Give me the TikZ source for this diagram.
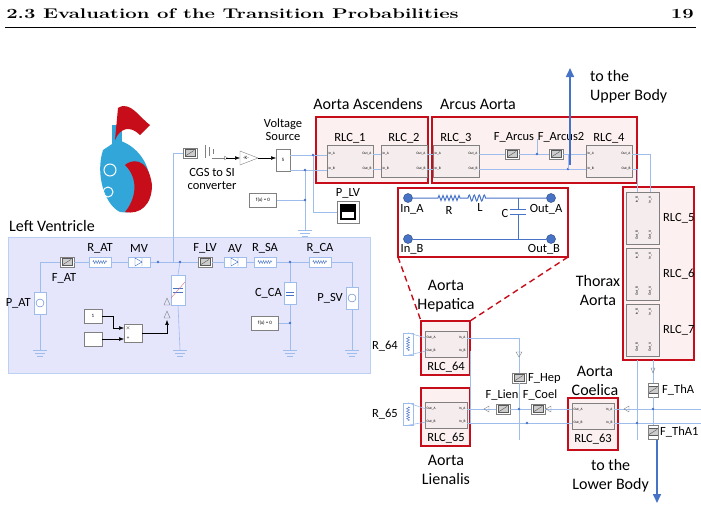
\documentclass[tikz,border=0pt]{standalone}
\usepackage{fontspec}
\newfontfamily\lbl{Carlito}
\usetikzlibrary{positioning, calc, arrows.meta, decorations.pathmorphing}
\definecolor{wire}{rgb}{0.62, 0.74, 0.93}
\definecolor{myred}{rgb}{0.78, 0.05, 0.1}
\definecolor{pinkbg}{rgb}{0.99, 0.94, 0.94}
\definecolor{lila}{rgb}{0.9, 0.9, 0.99}
\definecolor{blockbg}{rgb}{0.96, 0.93, 0.93}
\definecolor{cyanheart}{rgb}{0.2, 0.65, 0.85}
\definecolor{upblue}{rgb}{0.28, 0.45, 0.78}
\newcommand\pw{0.6pt}
\tikzset{
  lab/.style={font=\lbl\fontsize{12.5}{13}\selectfont, align=center, inner sep=1pt},
  big/.style={font=\lbl\fontsize{16}{19}\selectfont, align=center, inner sep=1pt},
  port/.style={font=\lbl\fontsize{3.5}{4}\selectfont, inner sep=0.5pt},
  grp/.style={draw=myred, line width=1.4pt, fill=pinkbg},
  rlc/.style={draw=gray, fill=blockbg, minimum width=46pt, minimum height=32pt, inner sep=0pt},
  vrlc/.style={draw=gray, fill=blockbg, minimum width=33pt, minimum height=52pt, inner sep=0pt},
  sens/.style={draw=gray, fill=white, minimum width=14pt, minimum height=10pt, inner sep=0pt,
    path picture={\draw[gray!70!black, fill=gray!40] ([shift={(-5pt,-3.5pt)}]path picture bounding box.center) rectangle ++(10pt,7pt);
      \draw[gray!70!black] ([shift={(-4pt,-2.5pt)}]path picture bounding box.center) -- ++(8pt,5pt);}},
  comp/.style={draw=wire, fill=white, minimum width=22pt, minimum height=10pt, inner sep=0pt},
  blk/.style={draw=gray, fill=white, minimum width=30pt, minimum height=18pt, inner sep=0pt, font=\lbl\fontsize{5}{6}\selectfont},
  w/.style={draw=wire, line width=\pw},
  dot/.style={circle, fill=upblue, inner sep=1.3pt},
  bigdot/.style={circle, fill=upblue, draw=upblue!60!black, inner sep=3.2pt},
  gnd/.style={draw=wire, line width=\pw},
  hd/.style={inner sep=0pt, font=\fontsize{14}{16}\selectfont\bfseries, xscale=1.45, transform shape},
}
\begin{document}
\begin{tikzpicture}[x=1pt, y=-1pt]
  \useasboundingbox (0,0) rectangle (701,523);

  % header
  \node (head) [hd, anchor=west] at (6,14) {2.3 Evaluation of the Transition Probabilities};
  \node (page) [hd, anchor=east] at (694,14) {19};
  \draw[line width=0.5pt] (5,27) -- (696,27);

  % groups
  \draw[fill=lila, draw=wire!70] (8,237) rectangle (370,373);
  \node (lv) [big, anchor=west] at (8,226) {Left Ventricle};
  \draw[grp] (316,117) rectangle (428,183);
  \node (asc) [big] at (368,104) {Aorta Ascendens};
  \draw[grp] (432,117) rectangle (637,183);
  \node (arc) [big] at (478,104) {Arcus Aorta};
  \draw[grp] (623,187) rectangle (694,360);
  \node (thx) [big] at (598,290) {Thorax\\Aorta};
  \draw[grp, fill=white] (398,188) rectangle (568,257);
  \draw[grp] (421,321) rectangle (470,375);
  \draw[grp] (421,388) rectangle (470,446);
  \draw[grp] (568,398) rectangle (618,450);
  \draw[myred, line width=1.4pt, dash pattern=on 6pt off 4pt] (398,257) -- (421,321);
  \draw[myred, line width=1.4pt, dash pattern=on 6pt off 4pt] (568,257) -- (470,321);

  % heart
  \fill[cyanheart] (103,150) .. controls (95,175) and (105,205) .. (120,212) .. controls (140,215) and (152,200) .. (150,180)
    .. controls (148,160) and (135,145) .. (118,140) -- cycle;
  \fill[cyanheart] (112,125) rectangle (122,150);
  \fill[myred] (118,108) .. controls (130,100) and (140,118) .. (150,125) -- (140,135) .. controls (130,125) and (120,128) .. (115,140) -- cycle;
  \fill[myred] (125,165) .. controls (130,160) and (148,155) .. (152,185) .. controls (152,205) and (140,215) .. (125,212)
    .. controls (135,200) and (140,180) .. cycle;
  \draw[white, line width=1pt] (110,170) circle (6pt) (108,192) circle (5pt);

  % top chain
  \node (pls) [sens, fill=white] at (190,153) {};
  \node (cgs) [lab] at (212,179) {CGS to SI\\converter};
  \draw[gray, fill=white] (240,151) -- (258,158) -- (240,165) -- cycle;
  \node (gk) [port, font=\lbl\fontsize{5}{6}\selectfont] at (246,158) {-K-};
  \node (vs) [draw=gray, fill=white, minimum width=14pt, minimum height=22pt, inner sep=0pt, font=\lbl\fontsize{5}{6}\selectfont] at (283,160) {S};
  \node (vsl) [lab] at (283,130) {Voltage\\Source};
  \node (fx1) [blk, minimum width=27pt, minimum height=14pt] at (263,200) {f(x) = 0};
  \node (plv) [draw=gray, fill=white, minimum width=22pt, minimum height=22pt, inner sep=0pt,
    path picture={\fill[black] ([shift={(-8pt,-8pt)}]path picture bounding box.center) rectangle ++(16pt,16pt);
      \fill[white] ([shift={(-6pt,-6pt)}]path picture bounding box.center) rectangle ++(12pt,6pt);}] at (348,212) {};
  \node (plvl) [lab] at (348,193) {P\_LV};
  \draw[gray] (205,145) -- (205,158) (209,147) -- (209,156) (213,149) -- (213,154);
  \draw[-{Triangle[open]}, gray] (212,158) -- (228,158);
  \draw[-Latex] (226,158) -- (240,158);
  \draw[-Latex] (258,158) -- (276,158);
  \draw[w] (290,155) -- (327,155) (290,170) -- (327,170);
  \draw[w] (313,155) |- (plv.west);
  \draw[w] (305,170) -- (305,230);
  \draw[w] (fx1.east) -- (305,200);
  \draw[gnd] (298,230) -- (312,230) (300,233) -- (310,233) (302,236) -- (308,236);
  \node[dot, inner sep=1pt] at (313,155) {};
  \node[dot, inner sep=1pt] at (305,170) {};
  \node[dot, inner sep=1pt] at (305,200) {};
  \draw[w] (pls.west) -- (173,153) -- (173,262);

  % RLC blocks
  \foreach \n/\x in {1/350, 2/404, 3/456, 4/609} {
    \node (rlc\n) [rlc] at (\x,161) {};
    \node [lab] at (\x,138) {RLC\_\n};
    \node [port, anchor=west] at ($(rlc\n.west)+(1,-7)$) {In\_A};
    \node [port, anchor=west] at ($(rlc\n.west)+(1,8)$) {In\_B};
    \node [port, anchor=east] at ($(rlc\n.east)+(-1,-7)$) {Out\_A};
    \node [port, anchor=east] at ($(rlc\n.east)+(-1,8)$) {Out\_B};
  }
  \draw[w] (rlc1.east) ++(0,-7) -- ++(8,0);
  \draw[w] (rlc1.east) ++(0,8) -- ++(8,0);
  \draw[w] (rlc2.east) ++(0,-7) -- ++(6,0);
  \draw[w] (rlc2.east) ++(0,8) -- ++(6,0);
  \node (farc) [sens] at (512,154) {};
  \node (farc2) [sens] at (556,154) {};
  \node [lab] at (514,137) {F\_Arcus};
  \node [lab] at (561,137) {F\_Arcus2};
  \draw[w] (479,154) -- (farc.west) (farc.east) -- (farc2.west) (farc2.east) -- (586,154);
  \draw[w] (479,169) -- (586,169);
  \draw[w] (537,139) -- (537,154);
  \node[dot, inner sep=1pt] at (537,154) {};
  \node[dot, inner sep=1pt] at (568,169) {};
  \draw[w] (568,154) -- (568,169);
  \draw[upblue, line width=1.6pt, -{Triangle[width=8pt,length=9pt]}] (570,165) -- (570,68);
  \node (up) [big, anchor=west, align=left] at (589,87) {to the\\Upper Body};

  % thorax blocks
  \foreach \n/\y in {5/218, 6/274, 7/330} {
    \node (rlc\n) [vrlc] at (643,\y) {};
    \node [lab, anchor=west] at (662,\y) {RLC\_\n};
    \node [port, rotate=90] at ($(rlc\n.north)+(-6,8)$) {In\_B};
    \node [port, rotate=90] at ($(rlc\n.north)+(7,8)$) {In\_A};
    \node [port, rotate=90] at ($(rlc\n.south)+(-6,-9)$) {Out\_B};
    \node [port, rotate=90] at ($(rlc\n.south)+(7,-9)$) {Out\_A};
  }
  \draw[w] (632,154) -- (650,154) -- (rlc5.north-|650,0);
  \draw[w] (632,169) -- (637,169) -- (rlc5.north-|637,0);

  % inset circuit
  \node (ina) [bigdot] at (408,198) {};
  \node (outa) [bigdot] at (551,198) {};
  \node (inb) [bigdot] at (408,239) {};
  \node (outb) [bigdot] at (551,239) {};
  \draw[upblue, line width=1pt] (ina) -- (438,198) decorate[decoration={zigzag, segment length=4pt, amplitude=2.5pt}] {-- (460,198)}
    -- (468,198) decorate[decoration={coil, aspect=0, segment length=5pt, amplitude=3pt}] {-- (490,198)} -- (outa);
  \draw[upblue, line width=1pt] (inb) -- (outb);
  \draw[upblue, line width=1pt] (518,198) -- (518,209) (510,209) -- (526,209) (510,214) -- (526,214) (518,214) -- (518,239);
  \node [lab, anchor=north] at (412,203) {In\_A};
  \node [lab, anchor=north] at (412,243) {In\_B};
  \node [lab, anchor=north] at (546,203) {Out\_A};
  \node [lab, anchor=north] at (544,243) {Out\_B};
  \node [lab] at (449,210) {R};
  \node [lab] at (480,207) {L};
  \node [lab] at (505,213) {C};

  % left ventricle circuit
  \node (fat) [sens] at (67,262) {};
  \node [lab] at (64,278) {F\_AT};
  \node (rat) [comp] at (100,262) {};
  \node [lab] at (100,248) {R\_AT};
  \node (mv) [comp] at (139,262) {};
  \node [lab] at (139,248) {MV};
  \node (flv) [sens] at (205,262) {};
  \node [lab] at (205,248) {F\_LV};
  \node (av) [comp] at (235,262) {};
  \node [lab] at (235,248) {AV};
  \node (rsa) [comp] at (265,262) {};
  \node [lab] at (265,248) {R\_SA};
  \node (rca) [comp] at (320,262) {};
  \node [lab] at (320,248) {R\_CA};
  \foreach \r in {rat, rsa, rca}
    \draw[upblue] decorate[decoration={zigzag, segment length=2.5pt, amplitude=1.5pt}] {($(\r.west)+(4,0)$) -- ($(\r.east)+(-4,0)$)};
  \foreach \d in {mv, av}
    \draw[upblue] ($(\d)+(-4,-4)$) -- ($(\d)+(-4,4)$) -- ($(\d)+(3,0)$) -- cycle ($(\d)+(3,-4)$) -- ($(\d)+(3,4)$);
  \node (pat) [comp, minimum width=12pt, minimum height=22pt] at (40,303) {};
  \draw[upblue] (pat) circle (4pt);
  \node [lab, anchor=east] at (32,303) {P\_AT};
  \node (psv) [comp, minimum width=12pt, minimum height=22pt] at (352,298) {};
  \draw[upblue] (psv) circle (4pt);
  \node [lab, anchor=east] at (344,298) {P\_SV};
  \node (cca) [comp, minimum width=12pt, minimum height=22pt] at (290,293) {};
  \draw[upblue, line width=1pt] (286,292) -- (294,292) (286,295) -- (294,295);
  \node [lab, anchor=east] at (283,293) {C\_CA};
  \node (clv) [comp, minimum width=14pt, minimum height=30pt] at (178,290) {};
  \draw[upblue, line width=1pt] (173,288) -- (183,288) (173,292) -- (183,292);
  \draw[myred!60] (171,298) -- (185,282);
  \node (one) [blk, minimum width=18pt, minimum height=14pt] at (93,316) {1};
  \node (emp) [blk, minimum width=18pt, minimum height=14pt] at (93,339) {};
  \node (prod) [blk, minimum width=18pt, minimum height=18pt] at (133,333) {};
  \node [port, font=\lbl\fontsize{5}{6}\selectfont] at (128,328) {$\times$};
  \node [port, font=\lbl\fontsize{5}{6}\selectfont] at (128,338) {+};
  \node (fx2) [blk, minimum width=27pt, minimum height=14pt] at (265,323) {f(x) = 0};
  \draw[-Latex] (one.east) -- (113,316) -- (113,328) -- (124,328);
  \draw[-Latex] (emp.east) -- (124,339);
  \draw[-Latex] (prod.east) -- (167,333) -- (167,320);
  \draw[gray] (164,305) -- (170,305) -- (167,298) -- cycle (164,318) -- (170,318) -- (167,311) -- cycle;
  \draw[w] (pat.north) -- (40,262) -- (fat.west) (fat.east) -- (rat.west) (rat.east) -- (mv.west) (mv.east) -- (flv.west)
    (flv.east) -- (av.west) (av.east) -- (rsa.west) (rsa.east) -- (rca.west) (rca.east) -- (352,262) -- (psv.north);
  \draw[w] (180,262) -- (clv.north) (clv.south) -- (180,350);
  \draw[w] (290,262) -- (cca.north) (cca.south) -- (290,350);
  \draw[w] (fx2.east) -- (290,323);
  \draw[w] (pat.south) -- (40,350) (psv.south) -- (352,350);
  \foreach \g in {40, 180, 290, 352}
    \draw[gnd] (\g-7,350) -- (\g+7,350) (\g-5,353) -- (\g+5,353) (\g-3,356) -- (\g+3,356);
  \foreach \p in {(158,262), (180,262), (290,262), (290,323)} \node[dot, inner sep=1pt] at \p {};

  % lower branches
  \foreach \n/\x/\y in {64/446/344, 65/446/415, 63/593/416} {
    \node (rlc\n) [rlc, minimum width=42pt, minimum height=26pt] at (\x,\y) {};
    \node [port, anchor=west] at ($(rlc\n.west)+(1,-6)$) {Out\_A};
    \node [port, anchor=west] at ($(rlc\n.west)+(1,7)$) {Out\_B};
    \node [port, anchor=east] at ($(rlc\n.east)+(-1,-6)$) {In\_A};
    \node [port, anchor=east] at ($(rlc\n.east)+(-1,7)$) {In\_B};
    \node [lab] at ($(rlc\n.south)+(0,10)$) {RLC\_\n};
  }
  \node [big] at (446,296) {Aorta\\Hepatica};
  \node [big] at (446,470) {Aorta\\Lienalis};
  \node [big] at (595,381) {Aorta\\Coelica};
  \node [big, anchor=east] at (650,476) {to the\\Lower Body};
  \node (r64) [comp, minimum width=10pt, minimum height=22pt] at (408,344) {};
  \node [lab, anchor=east] at (399,346) {R\_64};
  \node (r65) [comp, minimum width=10pt, minimum height=22pt] at (408,414) {};
  \node [lab, anchor=east] at (399,414) {R\_65};
  \foreach \r in {r64, r65}
    \draw[upblue] decorate[decoration={zigzag, segment length=2.5pt, amplitude=1.5pt}] {($(\r.north)+(0,4)$) -- ($(\r.south)+(0,-4)$)};
  \draw[w] (r64.north) -- (426,338) (r64.south) -- (426,351);
  \draw[w] (r65.north) -- (426,409) (r65.south) -- (426,422);
  \node (fhep) [sens] at (519,378) {};
  \node [lab, anchor=west] at (527,378) {F\_Hep};
  \node (flien) [sens] at (503,409) {};
  \node [lab] at (502,395) {F\_Lien};
  \node (fcoel) [sens] at (538,409) {};
  \node [lab] at (540,395) {F\_Coel};
  \node (ftha) [sens, minimum width=10pt, minimum height=14pt] at (653,390) {};
  \node [lab, anchor=west] at (661,390) {F\_ThA};
  \node (ftha1) [sens, minimum width=10pt, minimum height=14pt] at (653,432) {};
  \node [lab, anchor=west] at (659,432) {F\_ThA1};
  \draw[w] (467,338) -- (519,338) -- (fhep.north) (fhep.south) -- (519,440);
  \draw[w] (467,409) -- (flien.west) (flien.east) -- (fcoel.west) (fcoel.east) -- (572,409);
  \draw[w] (614,409) -- (701,409);
  \draw[w] (467,423) -- (572,423) (614,423) -- (701,423);
  \draw[w] (470,351) -- (470,423);
  \draw[w] (637,360) -- (637,440);
  \draw[w] (653,360) -- (ftha.north) (ftha.south) -- (ftha1.north);
  \draw[gray] (516,352) -- (522,352) -- (519,357) -- cycle (651,368) -- (655,368) -- (653,373) -- cycle
    (489,406) -- (489,412) -- (484,409) -- cycle (551,406) -- (551,412) -- (546,409) -- cycle (629,406) -- (629,412) -- (624,409) -- cycle;
  \foreach \p in {(519,409), (527,423), (637,423), (653,409)} \node[dot, inner sep=1pt] at \p {};
  \draw[upblue, line width=1.6pt, -{Triangle[width=8pt,length=9pt]}] (657,440) -- (657,503);
\end{tikzpicture}
\end{document}
